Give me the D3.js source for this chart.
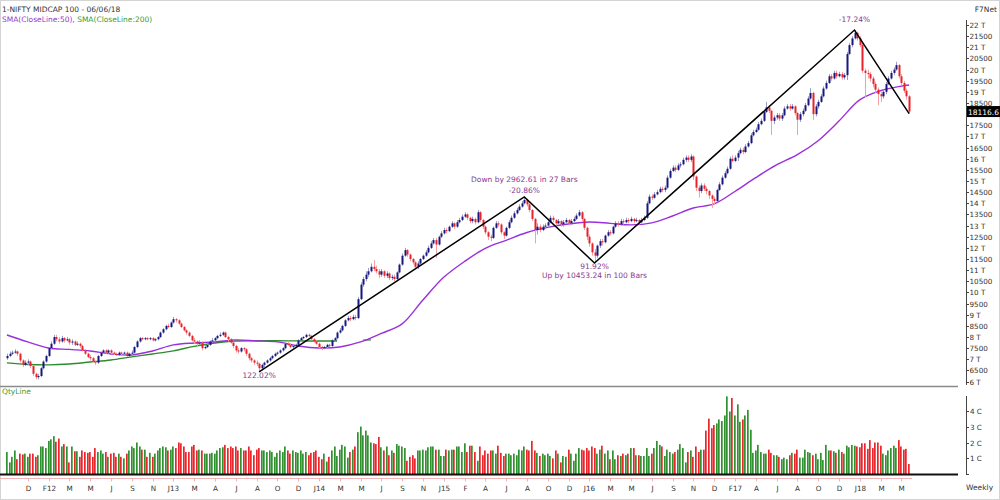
<!DOCTYPE html>
<html><head><meta charset="utf-8">
<script src="https://cdn.jsdelivr.net/npm/d3@7"></script>
<style>body{margin:0;background:#fff}svg{display:block;font-family:"DejaVu Sans",Verdana,sans-serif}</style>
</head><body><svg id="c" width="1000" height="500"></svg>
<script>
// ---------- DATA (weekly bars, first week ending 2011-10-14) ----------
const firstOpen = 7050;
const closes = [
7150,7250,7300,7350,7250,6950,6750,6850,6900,6700,
6350,6200,6250,6600,6900,7150,7500,7700,8000,7900,
7800,7950,7850,7900,7750,7800,7650,7700,7600,7400,
7250,7100,7050,6900,6850,7150,7300,7400,7300,7400,
7300,7250,7200,7300,7250,7300,7150,7250,7300,7550,
7800,7950,7900,7950,7900,7950,7850,7900,8000,8200,
8350,8500,8450,8650,8800,8750,8600,8450,8300,8200,
8050,7850,7800,7700,7750,7500,7550,7650,7800,7850,
7950,8050,8100,8200,8000,7900,7750,7600,7400,7350,
7500,7450,7250,7050,6950,6850,6800,6600,6750,6850,
6950,7050,7150,7250,7300,7400,7500,7700,7650,7550,
7600,7650,7850,7950,8000,8100,8050,7900,7800,7700,
7550,7500,7550,7650,7600,7850,7950,8200,8300,8500,
8750,8850,8800,8900,8850,9700,10350,10600,10800,10950,
11150,11050,10950,10800,10950,10750,10850,10650,10700,10600,
10900,11250,11650,11900,11700,11500,11350,11150,11300,11500,
11650,11800,12000,12200,12350,12150,12500,12650,12800,12750,
12950,13100,12950,13150,13250,13400,13500,13350,13200,13300,
13150,13600,13250,12950,12700,12500,12450,12900,13100,13050,
12700,12550,12900,13150,13350,13550,13700,13850,14000,14150,
13950,13700,13300,12800,12950,12800,12950,13000,13150,13350,
13250,13100,13200,13050,13150,13250,13100,13200,13300,13450,
13600,13300,12900,12500,12200,11800,11650,12100,12300,12250,
12550,12700,12650,12950,13100,13050,13200,13150,13250,13200,
13300,13200,13250,13150,13250,13350,14000,14300,14250,14400,
14500,14650,14600,14700,15150,15450,15600,15500,15700,15750,
15950,16050,15950,16100,15200,14700,14550,14800,14650,14550,
14350,14200,14100,14600,14850,15150,15350,15550,16000,15900,
16050,16250,16400,16300,16550,16700,17050,17200,17300,17550,
17700,18100,18300,18150,17700,17850,17950,17800,17950,18250,
18350,18250,18350,18050,17750,18000,18150,18400,18700,18950,
18000,18350,18550,18800,19150,19400,19700,19600,19850,19700,
19800,19650,19750,20700,21100,21400,21650,21400,21100,19950,
19850,19800,19600,19350,19100,18900,18800,19000,19350,19600,
19850,20000,20200,19700,19400,19050,18800,18116.6];
const highs = [
7250,7350,7400,7450,7400,7300,7000,6950,7000,6950,
6750,6400,6350,6650,6950,7200,7550,7800,8100,8100,
8000,8050,8000,8000,7950,7900,7850,7800,7750,7650,
7450,7300,7200,7100,6950,7200,7350,7450,7450,7450,
7450,7350,7300,7350,7350,7350,7350,7300,7400,7600,
7850,8000,8000,8000,8000,8000,8000,7950,8050,8250,
8400,8550,8600,8700,8900,8850,8800,8650,8500,8350,
8250,8100,7950,7850,7850,7800,7650,7700,7850,7950,
8000,8100,8200,8250,8250,8050,7950,7800,7650,7500,
7550,7550,7500,7300,7100,7000,6950,6850,6800,6900,
7000,7100,7200,7300,7350,7450,7550,7750,7800,7700,
7650,7700,7900,8000,8050,8150,8150,8100,7950,7850,
7750,7600,7600,7700,7700,7900,8000,8250,8400,8550,
8800,8950,8950,9000,9000,9800,10450,10700,10950,11100,
11300,11450,11200,11050,11050,11000,10950,10900,10800,10800,
10950,11300,11750,12000,11950,11750,11550,11400,11400,11550,
11700,11900,12100,12300,12450,12450,12550,12750,12900,12900,
13000,13200,13150,13250,13350,13500,13600,13550,13400,13400,
13350,13700,13650,13300,13000,12750,12600,12950,13200,13200,
13100,12750,12950,13250,13450,13650,13800,13950,14100,14284,
14200,14000,13750,13350,13100,13050,13050,13100,13250,13450,
13450,13300,13300,13250,13250,13350,13300,13300,13400,13550,
13700,13650,13350,12950,12600,12250,11950,12150,12400,12400,
12600,12800,12800,13000,13200,13200,13300,13300,13350,13350,
13400,13350,13350,13300,13350,13450,14100,14400,14400,14500,
14600,14750,14750,14800,15250,15550,15700,15700,15800,15850,
16050,16150,16150,16200,16150,15250,14800,14900,14900,14750,
14600,14400,14300,14650,14950,15250,15450,15650,16100,16150,
16150,16350,16500,16500,16650,16800,17150,17300,17400,17650,
17800,18200,18550,18400,18200,17950,18050,18050,18050,18350,
18450,18450,18450,18400,18100,18100,18250,18500,18800,19170,
19000,18450,18650,18900,19250,19500,19800,19800,19950,19950,
19900,19900,19850,20800,21200,21500,21774,21700,21500,21200,
20050,20000,19900,19700,19450,19200,19000,19100,19450,19700,
19950,20100,20350,20250,19800,19500,19150,18850];
const lows = [
6980,7100,7200,7250,7150,6850,6650,6700,6750,6600,
6250,6100,6100,6200,6550,6850,7100,7450,7650,7800,
7700,7750,7750,7800,7650,7650,7600,7600,7500,7350,
7200,7050,6950,6850,6750,6800,7100,7250,7250,7250,
7250,7200,7150,7150,7200,7200,7100,7100,7200,7250,
7500,7750,7850,7850,7850,7850,7800,7800,7850,7950,
8150,8300,8400,8400,8600,8650,8550,8400,8250,8100,
8000,7800,7700,7600,7650,7400,7450,7500,7600,7750,
7800,7900,8000,8050,7950,7800,7700,7500,7300,7250,
7300,7350,7150,6950,6850,6750,6700,6434,6500,6650,
6800,6900,7000,7100,7200,7250,7350,7450,7600,7500,
7500,7550,7600,7800,7900,7950,8000,7850,7750,7650,
7500,7400,7450,7500,7550,7550,7800,7900,8150,8250,
8450,8700,8700,8750,8750,8800,9650,10250,10500,10700,
10900,10950,10850,10650,10700,10650,10650,10550,10550,10500,
10500,10850,11200,11600,11600,11400,11250,11050,11050,11250,
11450,11600,11750,11950,12150,11550,12100,12450,12600,12650,
12700,12900,12850,12900,13100,13200,13350,13250,13100,13100,
13050,13100,13150,12850,12600,12350,12300,12400,12850,12950,
12600,12400,12500,12850,13100,13300,13500,13650,13800,13950,
13850,13600,13200,12200,12600,12700,12750,12850,12950,13100,
13150,13000,13050,12950,12950,13100,13000,13050,13150,13250,
13400,13200,12800,12350,12050,11650,11321,11550,12000,12100,
12200,12500,12550,12600,12900,12950,13000,13050,13100,13100,
13150,13100,13150,13050,13100,13200,13300,13950,14150,14200,
14350,14450,14500,14500,14650,15100,15400,15400,15450,15600,
15700,15850,15850,15850,15050,14550,14250,14450,14550,14400,
14200,13800,13950,14050,14550,14800,15100,15300,15500,15850,
15850,15900,16200,16200,16250,16500,16650,17000,17150,17250,
17500,17650,18050,18050,17060,17550,17750,17700,17700,17900,
18200,18150,18200,17950,17060,17650,17900,18100,18350,18650,
17740,17900,18250,18500,18750,19100,19350,19500,19550,19600,
19650,19550,19550,19530,20650,21000,21350,21300,21000,19850,
18770,19600,19450,19200,18950,18400,18550,18700,18900,19300,
19550,19750,19950,19600,19300,18950,18650,18020];
// weekly traded quantity, crores
const volumes = [
1.4,0.75,1.1,1.5,0.95,1.3,1.25,1.3,1.1,1.3,
1.3,1.1,1.2,1.75,1.75,1.65,2.1,2.2,2.4,2.05,
2.25,1.75,1.9,1.75,0.75,1.75,1.45,1.45,1.1,1.5,
1.4,1.35,1.4,1.1,1.65,1.4,1.5,1.3,1.4,1.1,
1.3,1.35,1.1,1.3,1.1,1.0,1.3,1.5,1.75,1.65,
2.0,1.75,1.55,1.55,1.1,1.35,1.1,1.3,1.5,1.65,
1.75,1.7,1.5,1.55,1.75,1.65,2.0,1.95,1.75,1.4,
1.4,1.75,1.85,1.5,1.55,1.5,1.3,1.3,1.3,1.35,
1.3,1.5,1.65,1.7,1.85,1.65,1.75,1.65,1.75,1.5,
1.65,1.5,1.5,1.75,1.5,1.2,1.55,1.65,1.5,1.5,
1.4,1.5,1.4,1.1,1.35,1.5,1.4,1.75,1.5,1.3,
1.5,1.4,1.35,1.5,1.3,1.4,1.2,1.35,1.4,1.5,
1.1,0.95,1.3,0.8,1.1,1.5,1.75,1.15,1.55,1.85,
1.75,1.05,1.4,1.55,1.75,2.65,3.0,2.45,2.75,2.45,
2.0,1.95,1.9,2.35,1.7,1.5,1.75,1.2,1.5,1.35,
1.9,1.8,1.75,1.65,0.85,1.1,1.2,1.0,1.5,1.5,
1.55,1.5,1.7,1.75,1.75,1.55,1.55,1.15,1.15,1.55,
1.5,1.55,1.55,1.75,1.75,1.4,1.95,1.4,1.8,1.8,
1.4,0.85,1.75,1.2,1.5,1.3,1.5,1.5,1.3,1.8,
1.35,1.15,1.3,1.3,1.2,1.3,1.2,1.55,1.5,1.75,
1.55,1.5,2.1,1.5,1.35,1.15,1.3,1.2,1.3,1.15,
1.0,1.5,1.3,0.75,1.15,1.1,1.55,1.3,0.85,1.3,
1.65,1.55,1.5,1.65,1.5,1.75,1.65,1.3,1.55,1.8,
1.3,1.5,0.95,1.5,0.95,1.2,1.15,1.3,1.2,1.3,
1.65,1.65,1.2,1.2,1.15,1.15,1.65,1.15,1.3,1.65,
2.1,1.85,1.75,1.15,1.55,1.4,1.3,1.4,1.55,1.9,
1.65,0.75,1.4,1.5,1.1,1.75,1.4,1.55,1.55,2.75,
3.5,2.9,3.1,3.2,3.45,3.35,3.7,4.9,3.95,4.8,
3.7,4.4,3.3,3.45,3.7,4.05,2.8,1.35,1.5,1.85,
1.4,1.3,1.3,1.55,1.35,1.2,1.2,1.1,0.95,1.05,
0.95,1.2,1.35,1.3,1.55,1.05,1.05,1.55,1.4,1.35,
1.2,1.3,0.95,1.35,0.9,1.85,1.5,1.5,1.45,1.35,
1.55,1.4,1.3,1.8,1.7,1.85,1.8,1.75,1.7,1.95,
1.95,1.6,2.15,1.65,2.0,2.0,1.8,1.3,1.2,1.5,
1.65,1.8,1.65,2.15,1.75,1.55,1.6,0.65];
// moving averages at these bars
const sma50Bars = [0,8,16,24,32,40,48,56,64,72,80,88,96,104,112,120,128,136,144,152,160,168,176,184,192,200,208,216,224,232,240,248,256,264,272,280,288,296,304,312,320,328,336,344,347];
const sma50 = [8090,7780,7510,7444,7375,7241,7196,7375,7645,7735,7780,7870,7824,7780,7600,7510,7555,7780,8160,8590,9660,10680,11390,11980,12340,12690,12920,13070,13160,13100,13030,13120,13430,13790,13970,14530,15150,15720,16180,16810,17690,18640,19050,19260,19310];
const sma200Bars = [0,8,16,24,32,40,48,56,64,72,80,88,96,104,112,120,127];
const sma200 = [6840,6770,6750,6790,6880,6970,7110,7240,7380,7580,7735,7820,7830,7830,7825,7825,7825];
const sma200bBars = [137,140];
const sma200b = [7860,7870];
// swing lines (bar, price)
const pivotBars = [97,199,226,326,347];
const pivotPrices = [6434,14284,11321,21774,18020];
const priceTicks = [6000,6500,7000,7500,8000,8500,9000,9500,10000,10500,11000,11500,12000,12500,13000,13500,14000,14500,15000,15500,16000,16500,17000,17500,18000,18500,19000,19500,20000,20500,21000,21500,22000];
const volTicks = [1,2,3,4];
const xTickLabels = ["D","F12","M","M","J","S","N","J13","M","A","J","A","O","D","J14","M","M","J","S","N","J15","F","A","J","A","O","D","J16","M","M","J","S","N","D","F17","A","J","A","O","D","J18","M","M"];
const lastPrice = "18116.6";

// ---------- DRAW ----------
const svg = d3.select("#c");
const N = closes.length;
const x = d3.scaleLinear().domain([0, 347]).range([6.9, 909.1]);
const y = d3.scaleLinear().domain([6000, 22000]).range([381.6, 25]);
const yv = d3.scaleLinear().domain([0, 4]).range([474.3, 410.7]);

const bars = closes.map((c, i) => {
  const o = i ? closes[i - 1] : firstOpen;
  const h = Math.max(highs[i] ?? c, o, c), l = Math.min(lows[i] ?? c, o, c);
  return {i, o, c, h, l, v: volumes[i] ?? 0, up: c >= o};
});

svg.append("rect").attr("x",0.5).attr("y",0.5).attr("width",999).attr("height",499)
  .attr("fill","#fff").attr("stroke","#d4d4d4");

// titles
svg.append("text").attr("x",2).attr("y",12).attr("font-size",7.5).attr("fill","#333").text("1-NIFTY MIDCAP 100 - 06/06/18");
const t2 = svg.append("text").attr("x",2).attr("y",21.5).attr("font-size",7.5);
t2.append("tspan").attr("fill","#9a35c8").text("SMA(CloseLine:50), ");
t2.append("tspan").attr("fill","#3a9a3a").text("SMA(CloseLine:200)");
svg.append("text").attr("x",997).attr("y",12).attr("text-anchor","end").attr("font-size",7.5).attr("fill","#333").text("F7Net");

// pane separators
svg.append("line").attr("x1",0).attr("x2",958).attr("y1",386.5).attr("y2",386.5).attr("stroke","#8a8a8a").attr("stroke-width",1.6);
svg.append("text").attr("x",2).attr("y",393.5).attr("font-size",7.5).attr("fill","#3a9a3a").text("QtyLine");

// right price axis
svg.append("line").attr("x1",966.5).attr("x2",966.5).attr("y1",20).attr("y2",385).attr("stroke","#444");
const pt = svg.append("g");
priceTicks.forEach(v => {
  const yy = Math.round(y(v)) + 0.5;
  pt.append("line").attr("x1",966.5).attr("x2",969).attr("y1",yy).attr("y2",yy).attr("stroke","#444");
  pt.append("text").attr("x",969.5).attr("y",yy+2.6).attr("font-size",7.2).attr("fill","#333")
    .text(v % 1000 === 0 ? (v/1000) + " T" : String(v));
});
// volume axis
svg.append("line").attr("x1",966.5).attr("x2",966.5).attr("y1",396).attr("y2",475).attr("stroke","#444");
svg.append("line").attr("x1",966.5).attr("x2",969).attr("y1",474.5).attr("y2",474.5).attr("stroke","#444");
volTicks.forEach(v => {
  const yy = Math.round(yv(v)) + 0.5;
  svg.append("line").attr("x1",966.5).attr("x2",969).attr("y1",yy).attr("y2",yy).attr("stroke","#444");
  svg.append("text").attr("x",970).attr("y",yy+2.6).attr("font-size",7.2).attr("fill","#333").text(v + " C");
});

// volume bars
svg.append("g").selectAll("rect").data(bars).join("rect")
  .attr("x", d => Math.round(x(d.i)) - 1).attr("width", 1.7)
  .attr("y", d => yv(d.v)).attr("height", d => yv(0) - yv(d.v))
  .attr("fill", d => d.up ? "#2f912f" : "#e8262c");
svg.append("line").attr("x1",0).attr("x2",958).attr("y1",474.5).attr("y2",474.5).attr("stroke","#111").attr("stroke-width",1.8);

// x axis (time)
svg.append("line").attr("x1",0).attr("x2",x(347)+3).attr("y1",478.5).attr("y2",478.5).attr("stroke","#efb4b4");
xTickLabels.forEach((lab, k) => {
  const xx = Math.round(x(8 + 8*k)) + 0.5;
  svg.append("line").attr("x1",xx).attr("x2",xx).attr("y1",478.5).attr("y2",481.5).attr("stroke","#efb4b4");
  svg.append("text").attr("x",xx).attr("y",491).attr("text-anchor","middle").attr("font-size",7.2).attr("fill","#333").text(lab);
});
svg.append("text").attr("x",966).attr("y",490).attr("font-size",7.5).attr("fill","#333").text("Weekly");

// moving averages
const line = d3.line().curve(d3.curveCatmullRom.alpha(0.5));
svg.append("path").attr("d", line(sma200Bars.map((b,k)=>[x(b), y(sma200[k])])))
  .attr("fill","none").attr("stroke","#2e8b2e").attr("stroke-width",1.4);
svg.append("path").attr("d", line(sma200bBars.map((b,k)=>[x(b), y(sma200b[k])])))
  .attr("fill","none").attr("stroke","#2e8b2e").attr("stroke-width",1.4);
svg.append("path").attr("d", line(sma50Bars.map((b,k)=>[x(b), y(sma50[k])])))
  .attr("fill","none").attr("stroke","#9a30dc").attr("stroke-width",1.4);

// candles
const cg = svg.append("g");
bars.forEach(d => {
  const xx = Math.round(x(d.i));
  cg.append("line").attr("x1",xx+0.5).attr("x2",xx+0.5).attr("y1",y(d.h)).attr("y2",y(d.l))
    .attr("stroke", d.up ? "#9c9cc8" : "#f2a2a4").attr("stroke-width",1);
  const top = y(Math.max(d.o,d.c)), bot = y(Math.min(d.o,d.c));
  cg.append("rect").attr("x",xx-0.5).attr("width",2).attr("y",top).attr("height",Math.max(1,bot-top))
    .attr("fill", d.up ? "#17177d" : "#e8222a");
});

// swing lines
svg.append("path").attr("d", d3.line()(pivotBars.map((b,k)=>[x(b), y(pivotPrices[k])])))
  .attr("fill","none").attr("stroke","#000").attr("stroke-width",1.5);

// annotations
const ann = (b, v, dy, txt) => svg.append("text").attr("x", x(b)).attr("y", y(v)+dy)
  .attr("text-anchor","middle").attr("font-size",7.5).attr("fill","#86398f").text(txt);
ann(97, 6434, 6.5, "122.02%");
ann(199, 14284, -15, "Down by 2962.61 in 27 Bars");
ann(199, 14284, -3.5, "-20.86%");
ann(226, 11321, 5.5, "91.92%");
ann(226, 11321, 14.5, "Up by 10453.24 in 100 Bars");
ann(326, 21774, -8.5, "-17.24%");

// last price box
const ly = y(closes[N-1]);
svg.append("rect").attr("x",967).attr("y",ly-5.5).attr("width",33).attr("height",11).attr("fill","#000");
svg.append("text").attr("x",968).attr("y",ly+3).attr("font-size",7.5).attr("fill","#fff").text(lastPrice);
</script></body></html>
